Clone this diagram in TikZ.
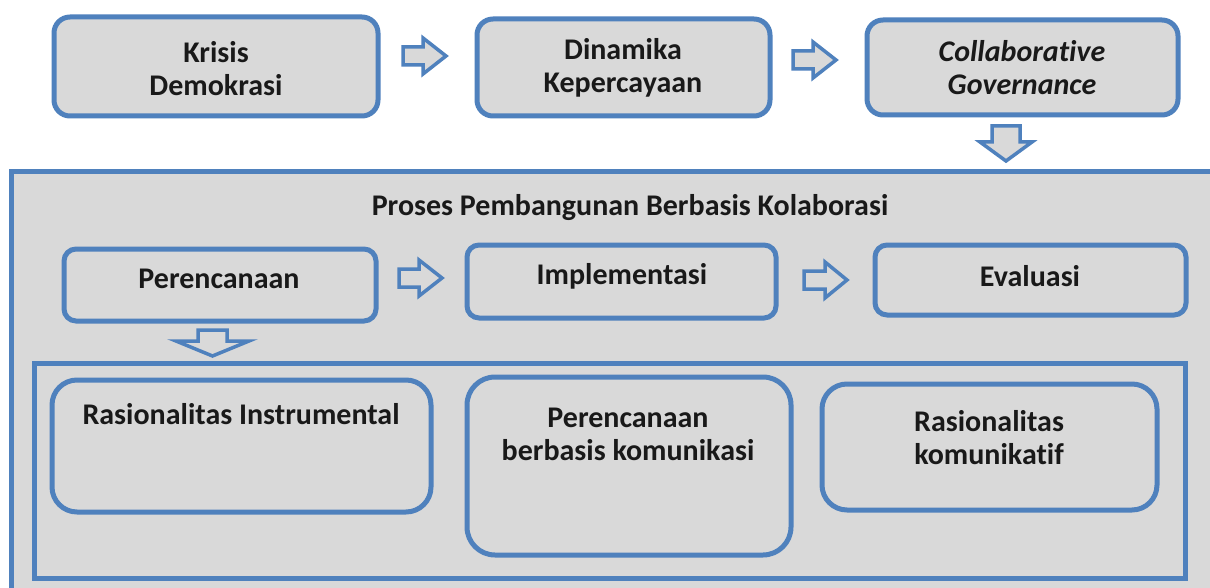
\documentclass[tikz,border=0pt]{standalone}
\usepackage{fontspec}
\setmainfont{Carlito}[Ligatures=NoCommon]
\definecolor{bblue}{HTML}{4F81BD}
\definecolor{bgray}{HTML}{D9D9D9}
\begin{document}
\begin{tikzpicture}[x=1pt,y=-1pt,
  box/.style={draw=bblue,fill=bgray,line width=5pt,inner sep=0pt},
  txt/.style={font=\fontsize{30}{33}\selectfont\bfseries,align=center,text=black!90,inner sep=0pt},
  blockarrow/.style={draw=bblue,fill=bgray,line width=3.5pt,line join=miter}]
\useasboundingbox (0,0) rectangle (1210,588);
\clip (0,0) rectangle (1210,588);
\fill[white] (0,0) rectangle (1210,588);
% outer container
\draw[draw=bblue,fill=bgray,line width=5pt] (11.5,171.5) rectangle (1240,620);
% top row
\draw[box,rounded corners=16pt] (54,17) rectangle (378,116);
\node[txt] (krisis) at (216,69) {Krisis\\Demokrasi};
\draw[box,rounded corners=16pt] (477,19) rectangle (770,116);
\node[txt] (dinamika) at (623,68) {Dinamika\\Kepercayaan};
\draw[box,rounded corners=16pt] (867,20) rectangle (1178,115);
\node[txt] (collab) at (1022,68) {\itshape Collaborative\\\itshape Governance};
% top arrows
\draw[blockarrow] (403,47) -- (423,47) -- (423,38) -- (446,56) -- (423,74) -- (423,65) -- (403,65) -- cycle;
\draw[blockarrow] (793,51) -- (813,51) -- (813,42) -- (836,60) -- (813,78) -- (813,69) -- (793,69) -- cycle;
\draw[blockarrow] (992,126) -- (1020,126) -- (1020,142) -- (1032,142) -- (1006,161) -- (980,142) -- (992,142) -- cycle;
% title
\node[txt] (title) at (630,208) {Proses Pembangunan Berbasis Kolaborasi};
% middle row
\draw[box,rounded corners=12pt] (64,249) rectangle (376,321);
\node[txt] (peren) at (219,279) {Perencanaan};
\draw[box,rounded corners=12pt] (467,245) rectangle (776,318);
\node[txt] (impl) at (622,276) {Implementasi};
\draw[box,rounded corners=12pt] (875,245) rectangle (1186,315);
\node[txt] (eval) at (1030,276) {Evaluasi};
% middle arrows
\draw[blockarrow] (399,269) -- (419,269) -- (419,260) -- (442,278) -- (419,296) -- (419,287) -- (399,287) -- cycle;
\draw[blockarrow] (804,271) -- (825,271) -- (825,262) -- (847,280) -- (825,298) -- (825,289) -- (804,289) -- cycle;
\draw[blockarrow] (198,330) -- (227,330) -- (227,341) -- (249,341) -- (212.5,356) -- (176,341) -- (198,341) -- cycle;
% inner container
\draw[draw=bblue,line width=5pt] (34.5,363) rectangle (1185,578);
% bottom boxes
\draw[box,rounded corners=25pt] (52,380) rectangle (431,512);
\node[txt] (rinst) at (241,414) {Rasionalitas Instrumental};
\draw[box,rounded corners=28pt] (467,377) rectangle (791,555);
\node[txt] (pbk) at (628,434) {Perencanaan\\berbasis komunikasi};
\draw[box,rounded corners=25pt] (822,384) rectangle (1157,510);
\node[txt] (rkom) at (989,438) {Rasionalitas\\komunikatif};
\end{tikzpicture}
\end{document}
